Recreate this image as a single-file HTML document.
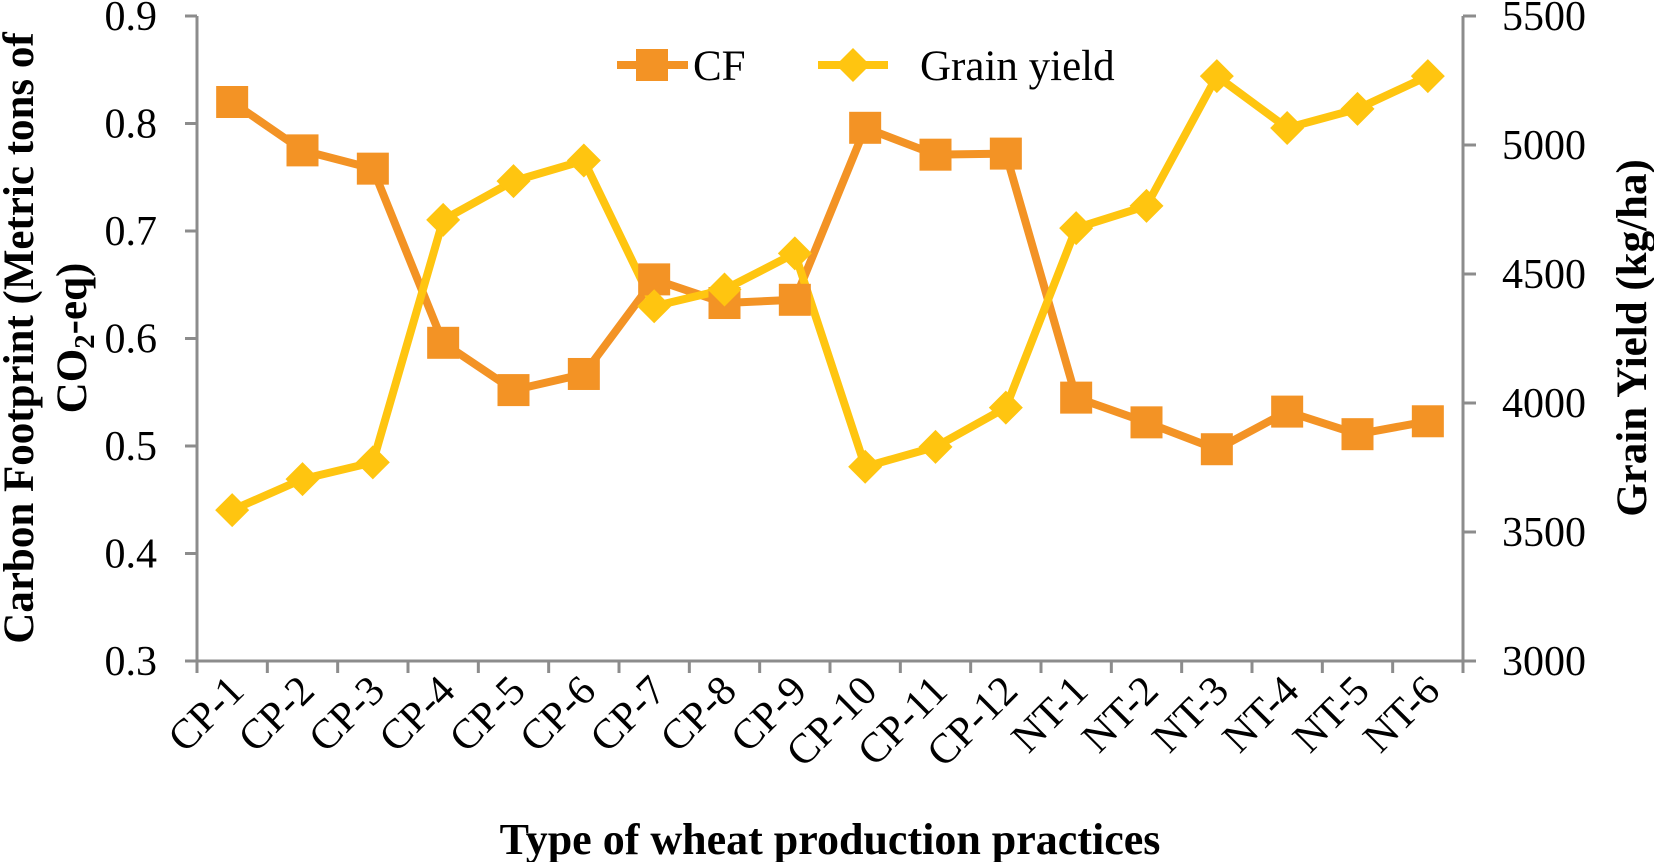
<!DOCTYPE html>
<html><head><meta charset="utf-8"><style>
html,body{margin:0;padding:0;background:#fff;}
svg text{font-family:"Liberation Serif",serif;fill:#000;}
</style></head><body>
<svg id="chart" width="1654" height="862" viewBox="0 0 1654 862" xmlns="http://www.w3.org/2000/svg">
<g id="axes"></g><g id="series"></g>
<g>
 <line x1="617" y1="65" x2="688" y2="65" stroke="#F39325" stroke-width="8"/>
 <rect x="636" y="49" width="32" height="32" fill="#F39325"/>
 <text x="693" y="80" font-size="43">CF</text>
 <line x1="818" y1="65" x2="888" y2="65" stroke="#FFC510" stroke-width="8"/>
 <polygon points="853,48 870,65 853,82 836,65" fill="#FFC510"/>
 <text x="920" y="80" font-size="43">Grain yield</text>
</g>
<text transform="translate(33,338) rotate(-90)" text-anchor="middle" font-size="43" font-weight="bold">Carbon Footprint (Metric tons of</text>
<text transform="translate(86,338) rotate(-90)" text-anchor="middle" font-size="43" font-weight="bold">CO<tspan font-size="29" dy="8">2</tspan><tspan dy="-8">-eq)</tspan></text>
<text transform="translate(1646,338) rotate(-90)" text-anchor="middle" font-size="43" font-weight="bold">Grain Yield (kg/ha)</text>
<text x="830" y="854" text-anchor="middle" font-size="44" font-weight="bold">Type of wheat production practices</text>
</svg>
<script>
const categories=["CP-1","CP-2","CP-3","CP-4","CP-5","CP-6","CP-7","CP-8","CP-9","CP-10","CP-11","CP-12","NT-1","NT-2","NT-3","NT-4","NT-5","NT-6"];
const cfValues=[0.82,0.775,0.758,0.596,0.552,0.567,0.655,0.633,0.636,0.796,0.771,0.772,0.545,0.522,0.497,0.532,0.511,0.523];
const yieldValues=[3585,3705,3770,4710,4860,4940,4375,4440,4580,3753,3830,3982,4678,4764,5267,5066,5140,5267];
const leftTicks=["0.3","0.4","0.5","0.6","0.7","0.8","0.9"];
const rightTicks=["3000","3500","4000","4500","5000","5500"];
const NS="http://www.w3.org/2000/svg";
const X0=197,X1=1463,YT=16,YB=661;
const band=(X1-X0)/categories.length;
const xc=i=>X0+band*(i+0.5);
const yL=v=>YB-(v-0.3)/0.6*(YB-YT);
const yR=v=>YB-(v-3000)/2500*(YB-YT);
function mk(t,a,p){const e=document.createElementNS(NS,t);for(const k in a)e.setAttribute(k,a[k]);p.appendChild(e);return e;}
const ax=document.getElementById('axes'),se=document.getElementById('series');
const g='#8c8c8c';
let l=mk('line',{x1:X0,y1:YT,x2:X0,y2:YB,stroke:g,'stroke-width':3},ax);


l=mk('line',{x1:X1,y1:YT,x2:X1,y2:YB,stroke:g,'stroke-width':3},ax);


l=mk('line',{x1:X0-12,y1:YB,x2:X1,y2:YB,stroke:g,'stroke-width':3},ax);


leftTicks.forEach(t=>{const y=yL(parseFloat(t));
 mk('line',{x1:X0-12,y1:y,x2:X0,y2:y,stroke:g,'stroke-width':3},ax);
 const e=mk('text',{x:157,y:y+14,'text-anchor':'end','font-size':42},ax);e.textContent=t;
 
 });
rightTicks.forEach(t=>{const y=yR(parseFloat(t));
 mk('line',{x1:X1,y1:y,x2:X1+13,y2:y,stroke:g,'stroke-width':3},ax);
 const e=mk('text',{x:1502,y:y+14,'font-size':42},ax);e.textContent=t;
 
 });
for(let i=0;i<=categories.length;i++){const x=X0+band*i;mk('line',{x1:x,y1:YB,x2:x,y2:YB+12,stroke:g,'stroke-width':3},ax);}
categories.forEach((c,i)=>{const x=xc(i)+14,y=YB+32;
 const e=mk('text',{x:x,y:y,'text-anchor':'end','font-size':42,transform:`rotate(-45 ${x} ${y})`},ax);e.textContent=c;
 
 });
let p=mk('polyline',{points:cfValues.map((v,i)=>xc(i)+','+yL(v)).join(' '),fill:'none',stroke:'#F39325','stroke-width':8,'stroke-linejoin':'round'},se);


p=mk('polyline',{points:yieldValues.map((v,i)=>xc(i)+','+yR(v)).join(' '),fill:'none',stroke:'#FFC510','stroke-width':8,'stroke-linejoin':'round'},se);


cfValues.forEach((v,i)=>{const e=mk('rect',{x:xc(i)-16,y:yL(v)-16,width:32,height:32,fill:'#F39325'},se);
 
 });
yieldValues.forEach((v,i)=>{const x=xc(i),y=yR(v);const e=mk('polygon',{points:`${x},${y-17} ${x+17},${y} ${x},${y+17} ${x-17},${y}`,fill:'#FFC510'},se);
 
 });
</script>
</body></html>
